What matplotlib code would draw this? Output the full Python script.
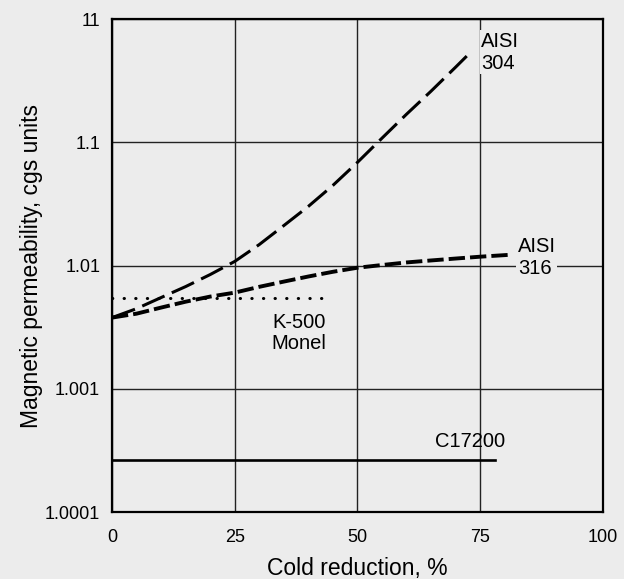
import matplotlib.pyplot as plt

plt.rcParams['font.family'] = ['Liberation Sans', 'DejaVu Sans']

# permeability values stored as (mu - 1), plotted on a log axis
x_304 = [0, 5, 10, 15, 20, 25, 30, 35, 40, 45, 50, 55, 60, 65, 70, 73.3]
mu_304 = [0.00378, 0.00447, 0.0055, 0.00675, 0.00845, 0.0108, 0.0148, 0.0211, 0.0302, 0.0447,
          0.0687, 0.108, 0.169, 0.26, 0.407, 0.55]
x_316 = [0, 5, 10, 15, 20, 25, 30, 35, 40, 45, 50, 55, 60, 65, 70, 75, 80.7]
mu_316 = [0.00378, 0.00407, 0.00456, 0.00509, 0.0056, 0.00603, 0.00672, 0.00741, 0.00815, 0.0089,
          0.0096, 0.0101, 0.0106, 0.011, 0.0114, 0.0118, 0.0122]
x_monel = [0, 43]
mu_monel = [0.0055, 0.0055]
x_c17200 = [0, 78]
mu_c17200 = [0.000265, 0.000265]

xticks = [0, 25, 50, 75, 100]
yticks = [1e-4, 1e-3, 1e-2, 1e-1, 1e0]
ytick_labels = ['1.0001', '1.001', '1.01', '1.1', '11']

bg = '#ececec'
fig = plt.figure(figsize=(6.24, 5.79), dpi=100, facecolor=bg)
ax = fig.add_axes([0.1795, 0.1157, 0.7865, 0.8513])
ax.set_facecolor(bg)

ax.plot(x_304, mu_304, color='black', lw=2.2, dashes=(8, 2.6))
ax.plot(x_316, mu_316, color='black', lw=2.8, dashes=(4.2, 1.3))
ax.plot(x_monel, mu_monel, color='black', lw=2.2, linestyle=(0, (0.1, 3.7)), dash_capstyle='round')
ax.plot(x_c17200, mu_c17200, color='black', lw=1.9)

ax.set_yscale('log')
ax.set_xlim(0, 100)
ax.set_ylim(1e-4, 1)
ax.set_xticks(xticks)
ax.set_xticklabels([str(t) for t in xticks])
ax.set_yticks(yticks)
ax.set_yticklabels(ytick_labels)
ax.minorticks_off()
ax.tick_params(length=0, labelsize=13)
ax.tick_params(axis='x', pad=12)
ax.tick_params(axis='y', pad=8.5)
ax.grid(True, color='#222222', lw=1.0)
ax.set_axisbelow(True)
for s in ax.spines.values():
    s.set_linewidth(1.6)

ax.text(75.2, 0.54, 'AISI\n304', fontsize=14.5, ha='left', va='center', linespacing=1.2,
        bbox=dict(facecolor=bg, edgecolor='none', pad=1))
ax.text(82.7, 0.0116, 'AISI\n316', fontsize=14.5, ha='left', va='center', linespacing=1.2,
        bbox=dict(facecolor=bg, edgecolor='none', pad=1))
ax.text(38.1, 0.00285, 'K-500\nMonel', fontsize=14.5, ha='center', va='center', linespacing=1.15)
ax.text(72.9, 0.00037, 'C17200', fontsize=14.5, ha='center', va='center')

ax.set_xlabel('Cold reduction, %', fontsize=16.5)
ax.set_ylabel('Magnetic permeability, cgs units', fontsize=16.5)
ax.xaxis.set_label_coords(0.5, -0.091)
ax.yaxis.set_label_coords(-0.14, 0.5)

fig.savefig('out.png', dpi=100, facecolor=bg)
